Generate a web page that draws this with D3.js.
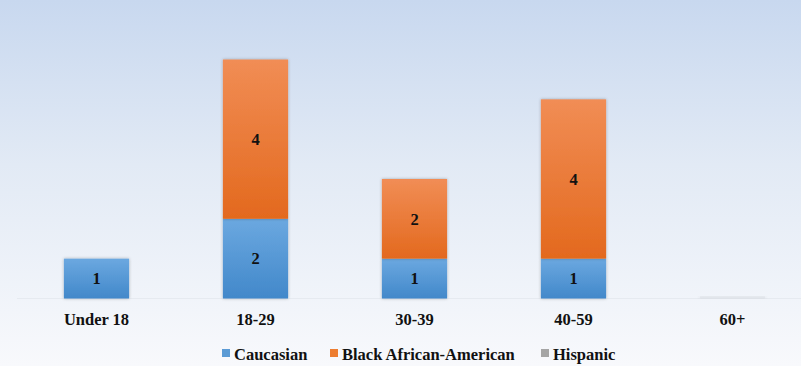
<!DOCTYPE html>
<html><head><meta charset="utf-8">
<script src="https://cdn.jsdelivr.net/npm/d3@7"></script>
<style>body{margin:0;padding:0;}svg{display:block;}</style>
</head><body>
<script>
const categories = ["Under 18", "18-29", "30-39", "40-59", "60+"];
const seriesNames = ["Caucasian", "Black African-American", "Hispanic"];
const caucasian = [1, 2, 1, 1, 0];
const blackAfricanAmerican = [0, 4, 2, 4, 0];
const hispanic = [0, 0, 0, 0, 0];
const colors = ["#5b9bd5", "#ed7d31", "#a5a5a5"];
const gradTop = ["#6ba8e0", "#f18d55", "#bdbdbd"];
const gradBot = ["#4288ca", "#e3691e", "#999999"];

const FONT = '"Liberation Serif", "Times New Roman", serif';
function styleText(sel){
  return sel.style("font-family", FONT).style("font-weight","bold").style("font-size","16.5px").style("fill","#111");
}

const W = 801, H = 366;
const svg = d3.select("body").append("svg").attr("width", W).attr("height", H);
const defs = svg.append("defs");
const bg = defs.append("linearGradient").attr("id","bg").attr("x1",0).attr("y1",0).attr("x2",0).attr("y2",1);
bg.append("stop").attr("offset","0%").attr("stop-color","#c8d8ef");
bg.append("stop").attr("offset","45%").attr("stop-color","#e2eaf5");
bg.append("stop").attr("offset","100%").attr("stop-color","#f8f9fc");
svg.append("rect").attr("width",W).attr("height",H).attr("fill","url(#bg)");

seriesNames.forEach((s,i)=>{
  const g = defs.append("linearGradient").attr("id","g"+i).attr("x1",0).attr("y1",0).attr("x2",0).attr("y2",1);
  g.append("stop").attr("offset","0%").attr("stop-color",gradTop[i]);
  g.append("stop").attr("offset","100%").attr("stop-color",gradBot[i]);
});
const f = defs.append("filter").attr("id","sh").attr("x","-10%").attr("y","-10%").attr("width","120%").attr("height","120%");
f.append("feDropShadow").attr("dx",0).attr("dy",0).attr("stdDeviation",1.5).attr("flood-color","#000").attr("flood-opacity",0.3);

const data = categories.map((c,i)=>({cat:c, "Caucasian":caucasian[i], "Black African-American":blackAfricanAmerican[i], "Hispanic":hispanic[i]}));
const stack = d3.stack().keys(seriesNames)(data);

const x = d3.scaleBand().domain(categories).range([17, 812]).paddingInner(0.59).paddingOuter(0.295);
const y = d3.scaleLinear().domain([0, 6]).range([298.5, 59.5]);

svg.append("line").attr("x1",17).attr("x2",W).attr("y1",y(0)).attr("y2",y(0)).attr("stroke","#e6eaf0").attr("stroke-width",1);

svg.append("rect").attr("x", x("60+")).attr("y", y(0)-2).attr("width", x.bandwidth()).attr("height",2)
  .attr("fill","#d9dde3").attr("filter","url(#sh)").attr("opacity",0.6);

stack.forEach((layer,i)=>{
  const g = svg.append("g");
  layer.forEach(d=>{
    const v = d[1]-d[0];
    if (v<=0) return;
    g.append("rect").attr("x", x(d.data.cat)).attr("y", y(d[1])).attr("width", x.bandwidth())
      .attr("height", y(d[0])-y(d[1])).attr("fill","url(#g"+i+")").attr("filter","url(#sh)");
    styleText(g.append("text").attr("x", x(d.data.cat)+x.bandwidth()/2).attr("y", (y(d[0])+y(d[1]))/2)
      .attr("dy","0.35em").attr("text-anchor","middle").text(v));
  });
});

const xAxis = svg.append("g").attr("transform",`translate(0,${y(0)})`).call(d3.axisBottom(x).tickSize(0).tickPadding(15));
xAxis.select(".domain").remove();
styleText(xAxis.selectAll("text"));

const legX = [222, 330, 541];
const leg = svg.append("g");
seriesNames.forEach((s,i)=>{
  const g = leg.append("g").attr("transform",`translate(${legX[i]},354)`);
  g.append("rect").attr("x",0).attr("y",-5).attr("width",8).attr("height",8).attr("fill",colors[i]);
  styleText(g.append("text").attr("x",12).attr("y",0).attr("dy","0.35em").text(s));
});
</script>
</body></html>
